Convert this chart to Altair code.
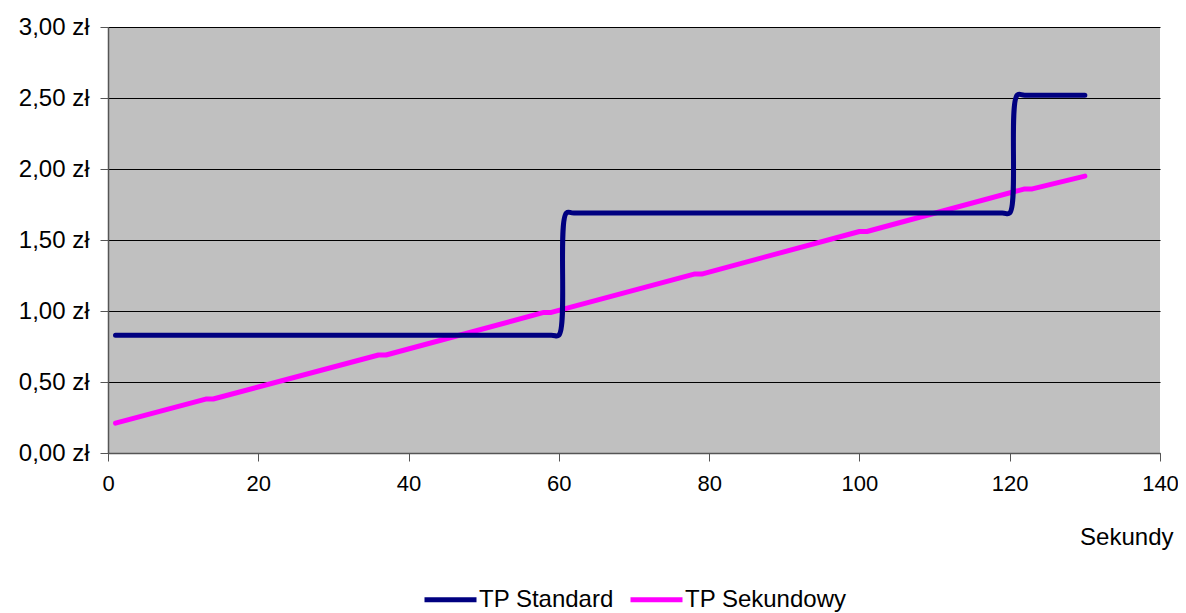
import altair as alt
import pandas as pd

# TP Standard (step tariff)
std_x = [1, 59, 60, 61, 62, 119, 120, 121, 122, 130]
std_y = [0.83, 0.83, 0.83, 1.69, 1.69, 1.69, 1.69, 2.52, 2.52, 2.52]
# TP Sekundowy (per-second tariff)
sec_x = [1, 13, 14, 36, 37, 58, 59, 78, 79, 100, 101, 122, 123, 130]
sec_y = [0.21, 0.38, 0.38, 0.69, 0.69, 0.99, 0.99, 1.26, 1.26, 1.56, 1.56, 1.86, 1.86, 1.95]

series_names = ["TP Standard", "TP Sekundowy"]
series_colors = ["#000080", "#FF00FF"]

df_std = pd.DataFrame({"t": std_x, "v": std_y, "s": series_names[0]})
df_sec = pd.DataFrame({"t": sec_x, "v": sec_y, "s": series_names[1]})

FONT = "Liberation Sans"
FS = 24

x = alt.X("t:Q", scale=alt.Scale(domain=[0, 140], nice=False),
          axis=alt.Axis(values=[0, 20, 40, 60, 80, 100, 120, 140], format="d",
                        title="Sekundy", titleAnchor="end", titleAlign="right",
                        titleX=1065, titleY=84, titleBaseline="middle",
                        titleFontWeight="normal", titleFontSize=FS, titleFont=FONT,
                        titleColor="black",
                        labelFontSize=22, labelFont=FONT, labelColor="black",
                        labelPadding=12, tickSize=8, tickColor="#555555",
                        domainColor="#555555", domainWidth=1.5, grid=False,
                        labelFlush=False))
y = alt.Y("v:Q", scale=alt.Scale(domain=[0, 3], nice=False),
          axis=alt.Axis(values=[0, 0.5, 1, 1.5, 2, 2.5, 3],
                        labelExpr="replace(format(datum.value, '.2f'), '.', ',') + ' zł'",
                        title=None, labelFontSize=FS, labelFont=FONT, labelColor="black",
                        labelPadding=11, tickSize=8, tickColor="#555555",
                        domainColor="#555555", domainWidth=1.5,
                        grid=True, gridColor="black", gridWidth=1, gridOpacity=1))
color = alt.Color("s:N",
                  scale=alt.Scale(domain=series_names, range=series_colors),
                  legend=alt.Legend(title=None, orient="none", direction="horizontal",
                                    legendX=314, legendY=544,
                                    symbolType="M-1,0H1", symbolSize=2704,
                                    symbolStrokeWidth=5, labelFontSize=FS,
                                    labelFont=FONT, labelColor="black",
                                    labelLimit=0,
                                    labelOffset=0, columnPadding=6))

l1 = alt.Chart(df_std).mark_line(strokeWidth=5, interpolate="catmull-rom",
                                 strokeCap="round", strokeJoin="round").encode(
    x=x, y=y, color=color)
l2 = alt.Chart(df_sec).mark_line(strokeWidth=5, interpolate="linear",
                                 strokeCap="round", strokeJoin="round").encode(
    x=x, y=y, color=color)

chart = alt.layer(l2, l1).properties(
    width=1052, height=426,
    autosize=alt.AutoSizeParams(type="none"),
    padding={"left": 100, "top": 19, "right": 18, "bottom": 160},
).configure_view(fill="#C0C0C0", stroke=None)

chart.save("out.html", embed_options={"renderer": "svg", "actions": False})
